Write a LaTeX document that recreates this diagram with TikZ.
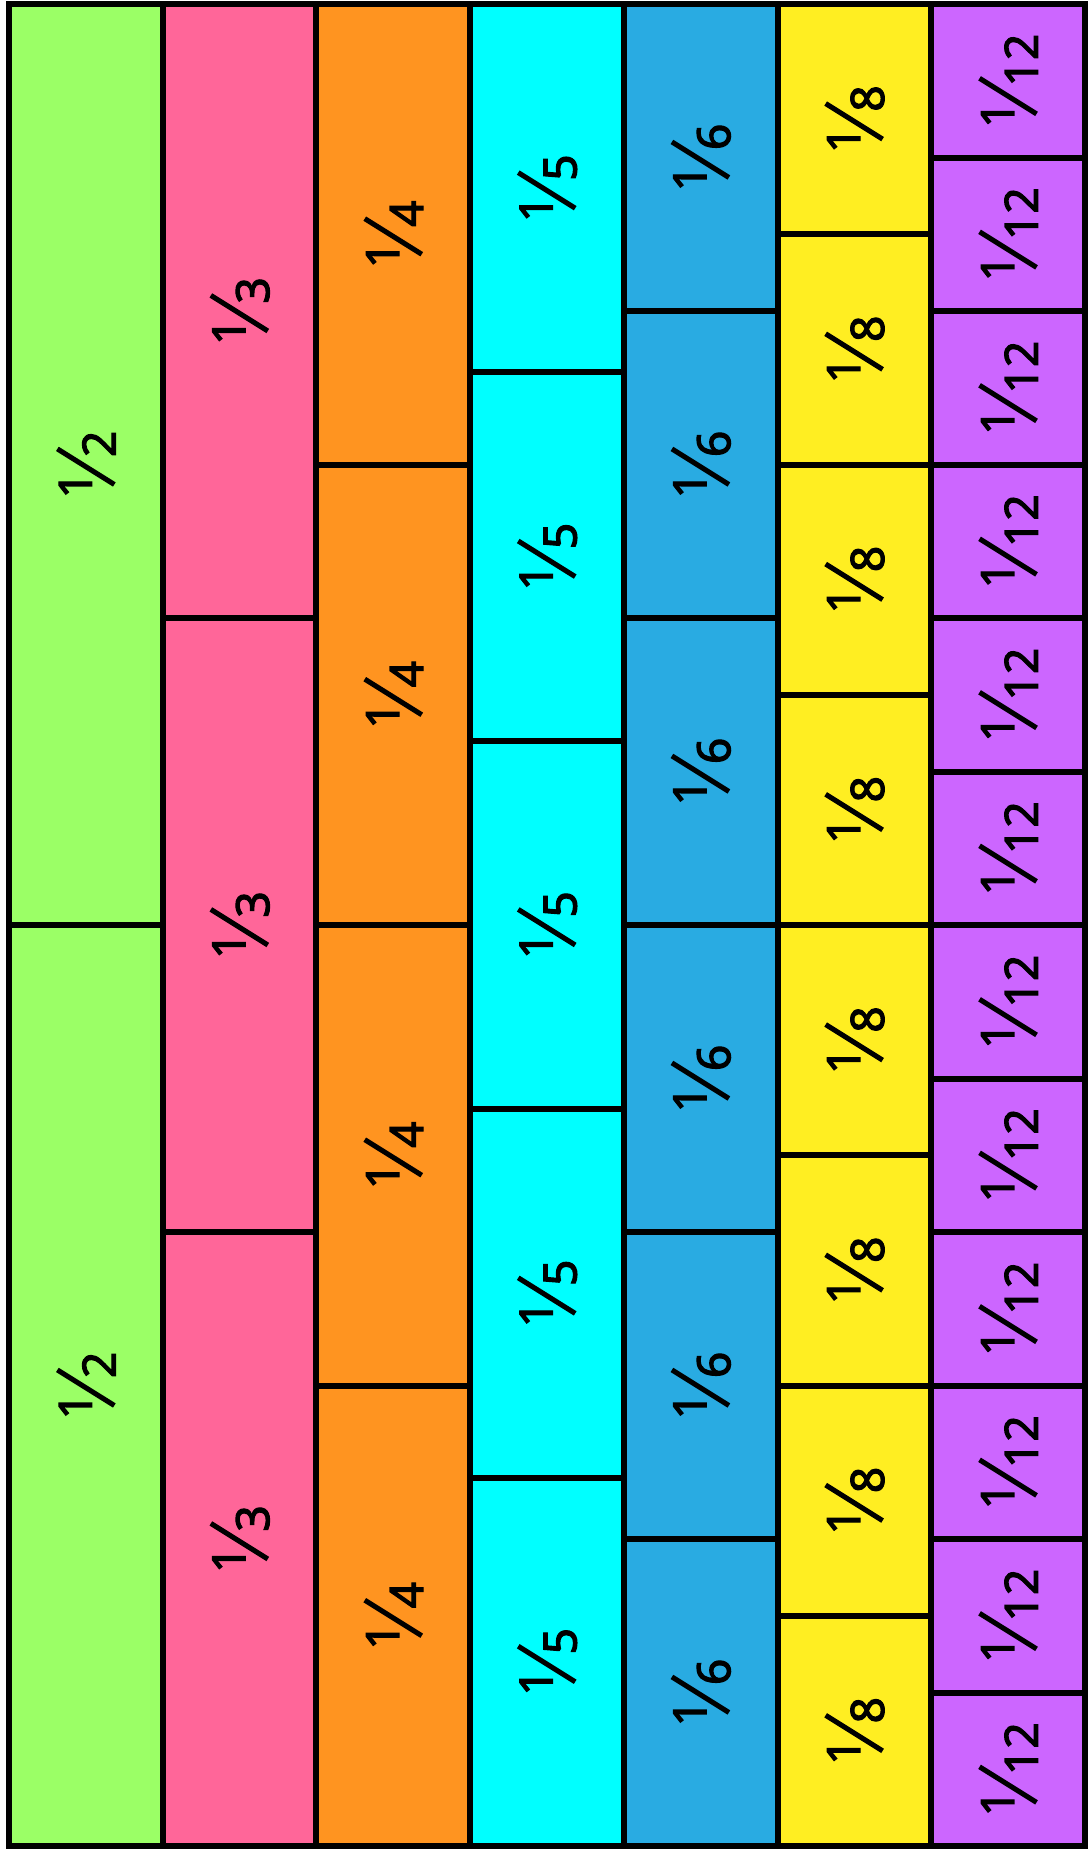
\documentclass[tikz,border=0pt]{standalone}
\usepackage{fontspec}
\setmainfont{Noto Sans}
\newfontfamily\labfont[FakeBold=2.5]{Noto Sans}
\usepackage{graphicx}
\usetikzlibrary{positioning}
\definecolor{halfgreen}{RGB}{155,255,102}
\definecolor{thirdpink}{RGB}{255,102,153}
\definecolor{quarterorange}{RGB}{255,148,32}
\definecolor{fifthcyan}{RGB}{0,255,255}
\definecolor{sixthblue}{RGB}{41,171,226}
\definecolor{eighthyellow}{RGB}{255,238,34}
\definecolor{twelfthpurple}{RGB}{204,102,255}
% slanted fraction: raised numerator, long slash, denominator on the baseline
\newcommand{\frc}[2]{\raisebox{0.52em}{#1}\kern-0.318em\rotatebox{58}{\rule{1.46em}{0.11em}}\kern-0.223em#2}
\tikzset{
  piece/.style={draw=black,line width=3pt,rotate=90,inner sep=0pt,
    font=\labfont\fontsize{23}{23}\selectfont},
  every picture/.style={x=0.5pt,y=-0.5pt}
}
\begin{document}
\begin{tikzpicture}
  \useasboundingbox[fill=white] (0,0) rectangle (1088,1849);
  \foreach \n/\col [count=\c from 0] in {2/halfgreen,3/thirdpink,4/quarterorange,5/fifthcyan,6/sixthblue,8/eighthyellow,12/twelfthpurple}{
    \pgfmathsetmacro{\h}{1842/\n}
    \foreach \k in {1,...,\n}{
      \node[piece,fill=\col,minimum width={\h*0.5pt},minimum height=76.85pt]
        (p\n-\k) at ({85.85+153.7*\c},{4+(\k-0.5)*\h}) {\frc{1}{\n}};
    }
  }
\end{tikzpicture}
\end{document}
